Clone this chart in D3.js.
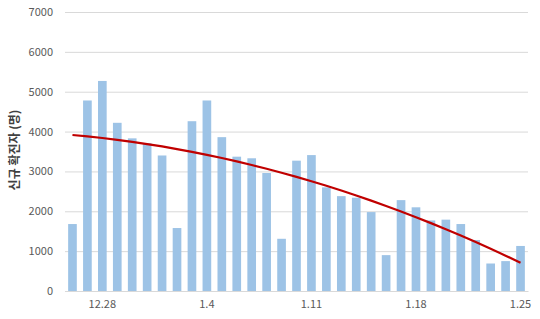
<!DOCTYPE html>
<html>
<head>
<meta charset="utf-8">
<script src="https://cdn.jsdelivr.net/npm/d3@7"></script>
<style>
  body { margin: 0; background: #fff; }
  text { font-family: "Noto Sans CJK KR", "Liberation Sans", sans-serif; }
</style>
</head>
<body>
<script>
// daily new cases, 12.26 ~ 1.25
var days = ["12.26","12.27","12.28","12.29","12.30","12.31","1.1","1.2","1.3","1.4",
            "1.5","1.6","1.7","1.8","1.9","1.10","1.11","1.12","1.13","1.14",
            "1.15","1.16","1.17","1.18","1.19","1.20","1.21","1.22","1.23","1.24","1.25"];
var cases = [1680, 4780, 5270, 4220, 3830, 3710, 3400, 1580, 4260, 4780,
             3860, 3370, 3330, 2960, 1310, 3270, 3410, 2600, 2380, 2340,
             1980, 900, 2280, 2100, 1770, 1790, 1680, 1280, 690, 750, 1130];
var tickLabels = ["12.28", "1.4", "1.11", "1.18", "1.25"];
var yTicks = [0, 1000, 2000, 3000, 4000, 5000, 6000, 7000];

var width = 540, height = 319;
var margin = {top: 12, right: 12, bottom: 28, left: 65};

var svg = d3.select("body").append("svg")
    .attr("width", width).attr("height", height);

var x = d3.scaleBand().domain(days)
    .range([margin.left, width - margin.right])
    .paddingInner(0.42).paddingOuter(0.21);

var y = d3.scaleLinear().domain([0, 7000])
    .range([height - margin.bottom, margin.top]);

/* gridlines + y labels */
var yAxis = svg.append("g").attr("class", "y axis")
    .attr("transform", "translate(" + margin.left + ",0)")
    .call(d3.axisLeft(y).tickValues(yTicks).tickFormat(d3.format("d"))
        .tickSize(-(width - margin.left - margin.right)).tickPadding(12));
yAxis.select(".domain").remove();
yAxis.selectAll(".tick line").attr("stroke", "#d9d9d9").attr("stroke-width", 1);
yAxis.selectAll(".tick text").attr("fill", "#595959").style("font-size", "11px");

/* bars */
svg.append("g").selectAll("rect")
    .data(cases)
    .enter().append("rect")
    .attr("x", function(d, i){ return x(days[i]); })
    .attr("y", function(d){ return y(d); })
    .attr("width", x.bandwidth())
    .attr("height", function(d){ return y(0) - y(d); })
    .attr("fill", "#9dc3e6");

/* x axis */
var xAxis = svg.append("g").attr("class", "x axis")
    .attr("transform", "translate(0," + y(0) + ")")
    .call(d3.axisBottom(x).tickValues(tickLabels).tickSize(0).tickPadding(9));
xAxis.select(".domain").attr("stroke", "#d9d9d9");
xAxis.selectAll(".tick text").attr("fill", "#595959").style("font-size", "11px");

/* order-2 polynomial trendline (least squares) */
function polyFit(ys) {
    var n = ys.length, s = [0,0,0,0,0], t = [0,0,0];
    ys.forEach(function(v, i){
        var k = i + 1;
        for (var p = 0; p < 5; p++) s[p] += Math.pow(k, p);
        for (var q = 0; q < 3; q++) t[q] += v * Math.pow(k, q);
    });
    var m = [[s[0], s[1], s[2], t[0]], [s[1], s[2], s[3], t[1]], [s[2], s[3], s[4], t[2]]];
    for (var c = 0; c < 3; c++) {
        for (var r = c + 1; r < 3; r++) {
            var f = m[r][c] / m[c][c];
            for (var j = c; j < 4; j++) m[r][j] -= f * m[c][j];
        }
    }
    var b = [0,0,0];
    for (var r2 = 2; r2 >= 0; r2--) {
        var sum = m[r2][3];
        for (var j2 = r2 + 1; j2 < 3; j2++) sum -= m[r2][j2] * b[j2];
        b[r2] = sum / m[r2][r2];
    }
    return function(k){ return b[0] + b[1] * k + b[2] * k * k; };
}
var trend = polyFit(cases);

svg.append("path")
    .datum(days)
    .attr("fill", "none")
    .attr("stroke", "#c00000")
    .attr("stroke-width", 2.2)
    .attr("d", d3.line()
        .x(function(d){ return x(d) + x.bandwidth() / 2; })
        .y(function(d, i){ return y(trend(i + 1)); })
        .curve(d3.curveMonotoneX));

/* y title */
svg.append("text")
    .attr("transform", "translate(19,150) rotate(-90)")
    .attr("text-anchor", "middle")
    .attr("fill", "#404040")
    .style("font-size", "12px")
    .style("font-weight", "bold")
    .text("신규 확진자 (명)");
</script>
</body>
</html>
